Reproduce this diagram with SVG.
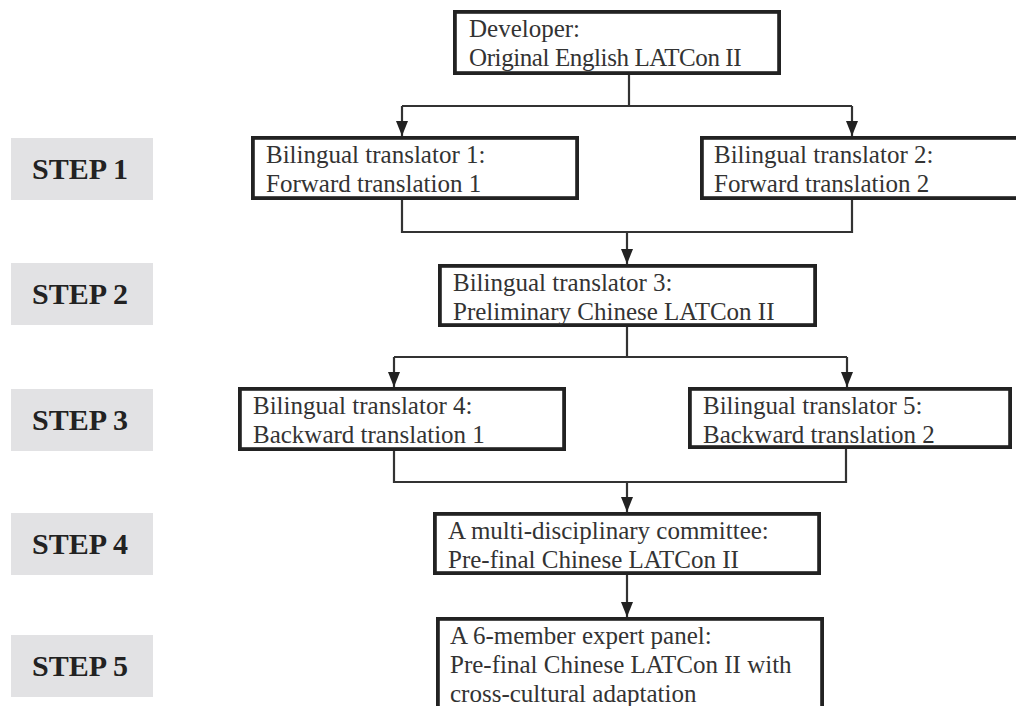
<svg xmlns="http://www.w3.org/2000/svg" width="1016" height="706" viewBox="0 0 1016 706">
<style>
.box{fill:#fff;stroke:#222;stroke-width:3.8}
.step{fill:#e2e2e4}
.t{font-family:"Liberation Serif","Times New Roman",serif;font-size:25px;fill:#333}
.st{font-family:"Liberation Serif","Times New Roman",serif;font-size:30px;font-weight:bold;fill:#222;text-anchor:middle}
.c{fill:none;stroke:#333;stroke-width:2.2}
</style>
<defs>
<marker id="ah" markerUnits="userSpaceOnUse" markerWidth="15" markerHeight="12" viewBox="0 0 15 12" refX="15" refY="6" orient="auto">
<path d="M0,0 L15,6 L0,12 Z" fill="#222"/>
</marker>
</defs>
<rect width="1016" height="706" fill="#fff"/>
<g id="steps">
<g id="step1"><rect class="step" x="11" y="138" width="142" height="62"/><text class="st" x="80" y="179">STEP 1</text></g>
<g id="step2"><rect class="step" x="11" y="263" width="142" height="62"/><text class="st" x="80" y="304">STEP 2</text></g>
<g id="step3"><rect class="step" x="11" y="389" width="142" height="62"/><text class="st" x="80" y="430">STEP 3</text></g>
<g id="step4"><rect class="step" x="11" y="513" width="142" height="62"/><text class="st" x="80" y="554">STEP 4</text></g>
<g id="step5"><rect class="step" x="11" y="635" width="142" height="62"/><text class="st" x="80" y="676">STEP 5</text></g>
</g>
<g id="connectors">
<path class="c" d="M629,75 V106 M402,106 H852"/>
<path class="c" d="M402,106 V136" marker-end="url(#ah)"/>
<path class="c" d="M852,106 V136" marker-end="url(#ah)"/>
<path class="c" d="M402,200 V232 H852 V200"/>
<path class="c" d="M627,232 V264" marker-end="url(#ah)"/>
<path class="c" d="M627,327 V357 M394,357 H847"/>
<path class="c" d="M394,357 V387" marker-end="url(#ah)"/>
<path class="c" d="M847,357 V387" marker-end="url(#ah)"/>
<path class="c" d="M394,451 V482 H846 V449"/>
<path class="c" d="M627,482 V512" marker-end="url(#ah)"/>
<path class="c" d="M627,575 V617" marker-end="url(#ah)"/>
</g>
<g id="developer"><rect class="box" x="454.9" y="11.9" width="324.2" height="61.2"/>
<text class="t" x="469" y="37">Developer:</text><text class="t" x="469" y="66" font-size="24" letter-spacing="-0.4">Original English LATCon II</text></g>
<g id="translator1"><rect class="box" x="252.9" y="137.9" width="324.2" height="60.2"/>
<text class="t" x="266" y="163">Bilingual translator 1:</text><text class="t" x="266" y="192">Forward translation 1</text></g>
<g id="translator2"><rect class="box" x="701.9" y="137.9" width="320" height="60.2"/>
<text class="t" x="714" y="163">Bilingual translator 2:</text><text class="t" x="714" y="192">Forward translation 2</text></g>
<g id="translator3"><rect class="box" x="439.9" y="265.9" width="375.2" height="59.2"/>
<text class="t" x="453" y="291">Bilingual translator 3:</text><text class="t" x="453" y="320">Preliminary Chinese LATCon II</text></g>
<g id="translator4"><rect class="box" x="239.9" y="388.9" width="324.2" height="60.2"/>
<text class="t" x="253" y="414">Bilingual translator 4:</text><text class="t" x="253" y="443">Backward translation 1</text></g>
<g id="translator5"><rect class="box" x="689.9" y="388.9" width="320.2" height="58.2"/>
<text class="t" x="703" y="414">Bilingual translator 5:</text><text class="t" x="703" y="443">Backward translation 2</text></g>
<g id="committee"><rect class="box" x="434.9" y="513.9" width="384.2" height="59.2"/>
<text class="t" x="448" y="539">A multi-disciplinary committee:</text><text class="t" x="448" y="568">Pre-final Chinese LATCon II</text></g>
<g id="panel"><rect class="box" x="437.9" y="618.9" width="384.2" height="100"/>
<text class="t" x="450" y="644">A 6-member expert panel:</text><text class="t" x="450" y="673">Pre-final Chinese LATCon II with</text><text class="t" x="450" y="702">cross-cultural adaptation</text></g>
</svg>
